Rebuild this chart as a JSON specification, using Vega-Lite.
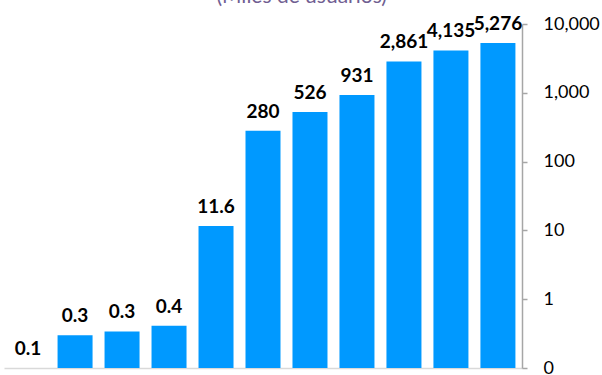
{
  "$schema": "https://vega.github.io/schema/vega-lite/v6.json",
  "autosize": {"type": "none"},
  "width": 518,
  "height": 344,
  "padding": {"left": 4, "top": 24, "right": 80, "bottom": 7},
  "background": "white",
  "view": {"stroke": null},
  "title": {
    "text": "(Miles de usuarios)",
    "font": "Lato",
    "fontSize": 21,
    "fontWeight": "normal",
    "color": "#705E92",
    "anchor": "middle",
    "frame": "bounds",
    "baseline": "alphabetic",
    "offset": -9
  },
  "data": {
    "values": [
      {"periodo": "1", "usuarios": 0.1, "label": "0.1"},
      {"periodo": "2", "usuarios": 0.3, "label": "0.3"},
      {"periodo": "3", "usuarios": 0.34, "label": "0.3"},
      {"periodo": "4", "usuarios": 0.41, "label": "0.4"},
      {"periodo": "5", "usuarios": 11.6, "label": "11.6"},
      {"periodo": "6", "usuarios": 280, "label": "280"},
      {"periodo": "7", "usuarios": 526, "label": "526"},
      {"periodo": "8", "usuarios": 931, "label": "931"},
      {"periodo": "9", "usuarios": 2861, "label": "2,861"},
      {"periodo": "10", "usuarios": 4135, "label": "4,135"},
      {"periodo": "11", "usuarios": 5276, "label": "5,276"}
    ]
  },
  "encoding": {
    "x": {
      "field": "periodo",
      "type": "ordinal",
      "sort": null,
      "scale": {"paddingInner": 0.255, "paddingOuter": 0.14},
      "axis": {
        "title": null,
        "labels": false,
        "ticks": false,
        "domainColor": "#d9d9d9",
        "domainWidth": 1.5
      }
    },
    "y": {
      "field": "usuarios",
      "type": "quantitative",
      "scale": {"type": "log", "domain": [0.1, 10000], "nice": false},
      "axis": {
        "orient": "right",
        "title": null,
        "grid": false,
        "values": [0.1, 1, 10, 100, 1000, 10000],
        "labelExpr": "datum.value < 1 ? '0' : format(datum.value, ',')",
        "labelFont": "Lato",
        "labelFontSize": 18,
        "labelColor": "#000000",
        "labelPadding": 16,
        "labelBaseline": "middle",
        "labelAlign": "left",
        "labelFlush": false,
        "labelOverlap": false,
        "domainColor": "#a6a6a6",
        "domainWidth": 1.5,
        "tickColor": "#a6a6a6",
        "tickSize": 5,
        "tickWidth": 1.5
      }
    }
  },
  "layer": [
    {
      "mark": {"type": "bar", "color": "#0099ff"},
      "encoding": {"y2": {"datum": 0.1}}
    },
    {
      "mark": {
        "type": "text",
        "font": "Lato",
        "fontSize": 19,
        "fontWeight": "bold",
        "color": "#000000",
        "baseline": "alphabetic",
        "dy": -13
      },
      "encoding": {"text": {"field": "label"}}
    }
  ]
}
